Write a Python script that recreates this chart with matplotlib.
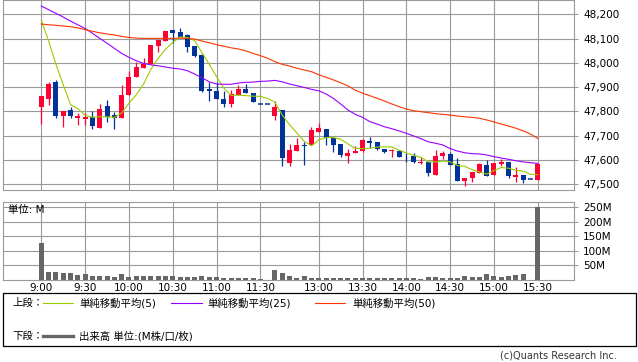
import matplotlib
matplotlib.use('Agg')
import matplotlib.pyplot as plt
import pandas as pd

plt.rcParams['font.family'] = ['DejaVu Sans', 'Noto Sans CJK JP']
plt.rcParams['font.size'] = 7.5

# 5分足 (前場 9:00-11:30, 後場 12:25-15:30)
times = [t.strftime('%-H:%M') for t in pd.date_range('2025-01-01 09:00', '2025-01-01 11:30', freq='5min')] + \
        [t.strftime('%-H:%M') for t in pd.date_range('2025-01-01 12:25', '2025-01-01 15:30', freq='5min')]

open_ = [47820, 47850, 47920, 47780, 47805, 47775, 47769, 47776, 47733, 47822,
         47785, 47774, 47869, 47943, 47978, 47995, 48071, 48091, 48135, 48127,
         48115, 48070, 48032, 47892, 47884, 47851, 47832, 47868, 47894, 47875,
         47829, 47829, 47782, 47806, 47588, 47638, 47662, 47662, 47717, 47728,
         47689, 47666, 47617, 47628, 47638, 47678, 47674, 47645, 47636, 47637,
         47618, 47618, 47588, 47592, 47538, 47617, 47624, 47584, 47515, 47527,
         47545, 47579, 47540, 47584, 47591, 47531, 47540, 47521, 47518]
high = [47865, 47920, 47930, 47800, 47820, 47795, 47795, 47802, 47830, 47847,
        47799, 47910, 47968, 48004, 48020, 48075, 48094, 48131, 48135, 48144,
        48118, 48070, 48035, 47922, 47922, 47884, 47888, 47908, 47914, 47876,
        47829, 47829, 47844, 47806, 47666, 47692, 47675, 47737, 47751, 47728,
        47696, 47666, 47645, 47659, 47686, 47696, 47674, 47645, 47645, 47640,
        47630, 47628, 47611, 47592, 47641, 47637, 47634, 47607, 47527, 47551,
        47586, 47600, 47588, 47603, 47591, 47570, 47540, 47521, 47585]
low = [47750, 47825, 47775, 47735, 47775, 47745, 47745, 47729, 47733, 47758,
       47729, 47774, 47869, 47943, 47978, 47995, 48046, 48091, 48081, 48108,
       48046, 48024, 47880, 47844, 47852, 47820, 47820, 47868, 47876, 47838,
       47829, 47829, 47765, 47577, 47577, 47638, 47581, 47662, 47717, 47662,
       47634, 47614, 47588, 47628, 47634, 47648, 47641, 47628, 47612, 47612,
       47593, 47586, 47584, 47535, 47538, 47605, 47579, 47515, 47494, 47511,
       47545, 47535, 47540, 47577, 47525, 47511, 47504, 47521, 47518]
close = [47865, 47915, 47780, 47800, 47780, 47782, 47778, 47741, 47810, 47777,
         47772, 47868, 47942, 47983, 47997, 48075, 48094, 48131, 48124, 48108,
         48067, 48028, 47885, 47885, 47852, 47832, 47872, 47894, 47876, 47840,
         47829, 47829, 47818, 47610, 47641, 47662, 47656, 47724, 47731, 47689,
         47662, 47621, 47630, 47638, 47682, 47671, 47645, 47633, 47640, 47614,
         47615, 47593, 47593, 47545, 47617, 47630, 47579, 47515, 47527, 47551,
         47582, 47535, 47586, 47592, 47535, 47540, 47518, 47521, 47585]

# 移動平均 (前日分を含むため画面から読み取り)
ma5_head = [48175, 48090, 47995, 47910]
ma25 = [48234, 48219, 48204, 48189, 48172, 48157, 48142, 48122, 48101, 48081,
        48060, 48039, 48023, 48009, 47998, 47992, 47988, 47983, 47978, 47975,
        47968, 47954, 47939, 47922, 47913, 47912, 47912, 47917, 47920, 47921,
        47924, 47925, 47928, 47922, 47913, 47906, 47899, 47891, 47885, 47872,
        47854, 47831, 47806, 47788, 47776, 47758, 47748, 47737, 47729, 47720,
        47710, 47699, 47688, 47675, 47669, 47662, 47647, 47637, 47630, 47626,
        47625, 47621, 47614, 47608, 47603, 47597, 47592, 47589, 47586]
ma50 = [48160, 48157, 48155, 48152, 48149, 48144, 48137, 48130, 48124, 48119,
        48115, 48109, 48105, 48102, 48101, 48101, 48101, 48101, 48101, 48102,
        48101, 48098, 48090, 48083, 48075, 48069, 48062, 48057, 48050, 48039,
        48030, 48019, 48005, 47994, 47987, 47978, 47971, 47964, 47951, 47941,
        47930, 47918, 47905, 47888, 47875, 47865, 47854, 47843, 47831, 47820,
        47810, 47803, 47799, 47795, 47791, 47788, 47785, 47781, 47778, 47776,
        47772, 47765, 47757, 47748, 47740, 47731, 47720, 47707, 47689]

# 出来高 (M)
volume = [126, 28.5, 28.5, 24, 24, 17, 20.5, 13.7, 13.7, 13.7,
          10.3, 20.5, 10.3, 13.7, 13.7, 13.7, 13.7, 13.7, 13.7, 10.3,
          10.3, 10.3, 13.7, 10.3, 10.3, 6.8, 6.8, 6.8, 6.8, 6.8,
          3.4, 0, 34, 24, 13.7, 6.8, 13.7, 6.8, 6.8, 6.8,
          6.8, 6.8, 6.8, 6.8, 6.8, 6.8, 6.8, 6.8, 6.8, 6.8,
          6.8, 6.8, 3.4, 10.3, 10.3, 6.8, 6.8, 6.8, 13.7, 10.3,
          10.3, 20.5, 13.7, 10.3, 13.7, 18, 20.5, 1, 250]

tick_labels = ['9:00', '9:30', '10:00', '10:30', '11:00', '11:30',
               '13:00', '13:30', '14:00', '14:30', '15:00', '15:30']
price_ticks = [47500, 47600, 47700, 47800, 47900, 48000, 48100, 48200]
vol_ticks = [50, 100, 150, 200, 250]

up_c = '#ff0033'
dn_c = '#003399'
grid_c = '#999999'

df = pd.DataFrame({'o': open_, 'h': high, 'l': low, 'c': close, 'v': volume})
ma5 = df['c'].rolling(5).mean()
ma5.iloc[:4] = ma5_head
x = list(range(len(df)))
tick_pos = [times.index(t) for t in tick_labels]

W, H = 638, 362
fig = plt.figure(figsize=(W / 100, H / 100), dpi=100)
ax1 = fig.add_axes([3 / W, 1 - 190 / H, 571 / W, 190 / H])
ax2 = fig.add_axes([3 / W, 1 - 280 / H, 571 / W, 78.3 / H])

for ax in (ax1, ax2):
    ax.set_xlim(-5.25, 72.97)
    ax.set_axisbelow(True)
    ax.grid(True, color=grid_c, lw=0.8)
    for s in ax.spines.values():
        s.set_color(grid_c)
        s.set_linewidth(0.8)
    ax.yaxis.tick_right()
    ax.tick_params(axis='y', length=3, width=0.8, color=grid_c, pad=3.6)
    ax.set_xticks(tick_pos)

# ローソク足
colors = [up_c if c > o else dn_c for o, c in zip(df['o'], df['c'])]
ax1.vlines(x, df['l'], df['h'], colors=colors, lw=0.9)
for i, r in df.iterrows():
    if r['c'] == r['o']:
        ax1.hlines(r['c'], i - 0.34, i + 0.34, colors=dn_c, lw=1.1)
    else:
        ax1.bar(i, abs(r['c'] - r['o']), bottom=min(r['o'], r['c']), width=0.68,
                color=colors[i], lw=0, zorder=3)
ax1.plot(x, ma5, color='#99cc00', lw=0.8, zorder=4)
ax1.plot(x, ma25, color='#9900ff', lw=0.8, zorder=4)
ax1.plot(x, ma50, color='#ff3300', lw=0.8, zorder=4)
ax1.set_ylim(47476.5, 48259)
ax1.set_yticks(price_ticks)
ax1.set_yticklabels([f'{p:,}' for p in price_ticks])
ax1.tick_params(axis='x', length=0, labelbottom=False)

# 出来高
ax2.bar(x, df['v'], width=0.68, color='#666666', lw=0)
ax2.set_ylim(0, 269)
ax2.set_yticks(vol_ticks)
ax2.set_yticklabels([f'{v}M' for v in vol_ticks])
ax2.set_xticklabels(tick_labels)
ax2.tick_params(axis='x', length=0, pad=2.5)

# 凡例など
lg = fig.add_axes([0, 0, 1, 1])
lg.set_xlim(0, W)
lg.set_ylim(H, 0)
lg.axis('off')
lg.text(8, 210, '単位: M', va='center', ha='left')
lg.add_patch(plt.Rectangle((3, 293), 633, 53, fill=False, ec='black', lw=0.9))
lg.text(12, 303, '上段：', va='center')
lg.plot([43, 73], [303, 303], color='#99cc00', lw=0.8)
lg.text(79, 303, '単純移動平均(5)', va='center')
lg.plot([171, 202], [303, 303], color='#9900ff', lw=0.8)
lg.text(207, 303, '単純移動平均(25)', va='center')
lg.plot([315, 345], [303, 303], color='#ff3300', lw=0.8)
lg.text(352, 303, '単純移動平均(50)', va='center')
lg.text(12, 336, '下段：', va='center')
lg.plot([43, 73], [336, 336], color='#666666', lw=2.4)
lg.text(79, 336, '出来高 単位:(M株/口/枚)', va='center')
lg.text(617, 356, '(c)Quants Research Inc.', va='center', ha='right', color='#333333', fontsize=7)

fig.savefig('out.png', dpi=100)
